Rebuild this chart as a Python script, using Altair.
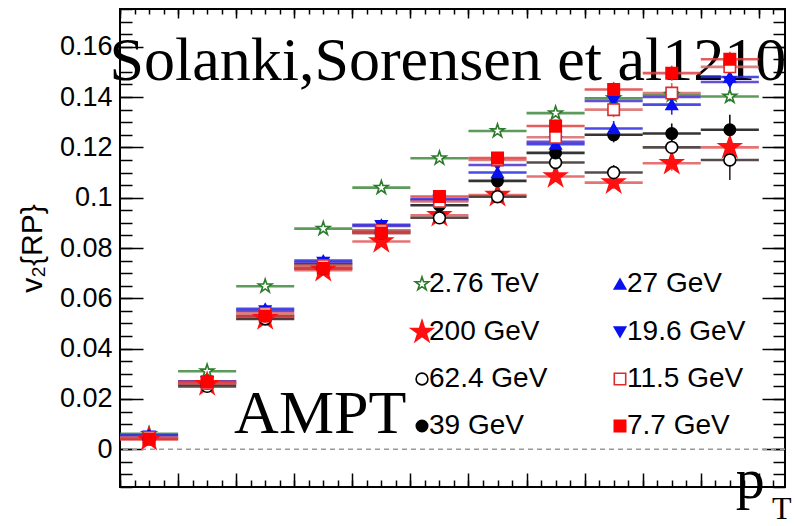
import altair as alt
import pandas as pd

# ---- pT bins (bin edges and centres) ----
pt_lo = [0.0, 0.2, 0.4, 0.6, 0.8, 1.0, 1.2, 1.4, 1.6, 1.8, 2.0]
pt_hi = [0.2, 0.4, 0.6, 0.8, 1.0, 1.2, 1.4, 1.6, 1.8, 2.0, 2.2]
pt_mid = [0.1, 0.3, 0.5, 0.7, 0.9, 1.1, 1.3, 1.5, 1.7, 1.9, 2.1]

# ---- v2{RP} per collision energy ----
v2_2760 = [0.0061, 0.0310, 0.0648, 0.0877, 0.1040, 0.1157, 0.1265, 0.1336, 0.1395, 0.1408, 0.1402]
v2_200 = [0.0040, 0.0258, 0.0520, 0.0712, 0.0826, 0.0930, 0.1010, 0.1084, 0.1060, 0.1137, 0.1200]
v2_624 = [0.0043, 0.0250, 0.0518, 0.0720, 0.0860, 0.0920, 0.1004, 0.1140, 0.1100, 0.1200, 0.1150]
v2_39 = [0.0045, 0.0262, 0.0530, 0.0735, 0.0868, 0.0970, 0.1067, 0.1178, 0.1250, 0.1255, 0.1270]
v2_27 = [0.0056, 0.0270, 0.0558, 0.0750, 0.0892, 0.0995, 0.1100, 0.1213, 0.1275, 0.1370, 0.1480]
v2_196 = [0.0052, 0.0268, 0.0550, 0.0742, 0.0888, 0.0990, 0.1130, 0.1222, 0.1385, 0.1400, 0.1460]
v2_115 = [0.0047, 0.0262, 0.0540, 0.0730, 0.0870, 0.0985, 0.1150, 0.1240, 0.1350, 0.1416, 0.1520]
v2_77 = [0.0040, 0.0268, 0.0530, 0.0720, 0.0860, 0.1005, 0.1158, 0.1285, 0.1430, 0.1495, 0.1550]

# ---- statistical errors ----
err_2760 = [0.0003, 0.0003, 0.0004, 0.0005, 0.0006, 0.0007, 0.0008, 0.0010, 0.0012, 0.0015, 0.0020]
err_200 = [0.0005, 0.0006, 0.0008, 0.0010, 0.0012, 0.0014, 0.0017, 0.0020, 0.0025, 0.0030, 0.0040]
err_624 = [0.0005, 0.0006, 0.0008, 0.0010, 0.0012, 0.0015, 0.0020, 0.0025, 0.0030, 0.0040, 0.0080]
err_39 = [0.0005, 0.0006, 0.0008, 0.0010, 0.0012, 0.0015, 0.0020, 0.0025, 0.0030, 0.0040, 0.0060]
err_27 = [0.0005, 0.0006, 0.0008, 0.0010, 0.0012, 0.0015, 0.0020, 0.0025, 0.0030, 0.0040, 0.0050]
err_196 = [0.0005, 0.0006, 0.0008, 0.0010, 0.0012, 0.0015, 0.0020, 0.0025, 0.0030, 0.0040, 0.0050]
err_115 = [0.0005, 0.0006, 0.0008, 0.0010, 0.0012, 0.0015, 0.0020, 0.0025, 0.0030, 0.0040, 0.0050]
err_77 = [0.0005, 0.0006, 0.0008, 0.0010, 0.0012, 0.0015, 0.0020, 0.0025, 0.0030, 0.0030, 0.0030]

# drawing order (and legend order: the legend fills column by column)
energies = ["2.76 TeV", "200 GeV", "62.4 GeV", "39 GeV", "27 GeV", "19.6 GeV", "11.5 GeV", "7.7 GeV"]
series_v2 = [v2_2760, v2_200, v2_624, v2_39, v2_27, v2_196, v2_115, v2_77]
series_err = [err_2760, err_200, err_624, err_39, err_27, err_196, err_115, err_77]

# ---- marker styles (same order as energies) ----
STAR = ("M0,-1L0.2245,-0.309L0.951,-0.309L0.3633,0.118L0.588,0.809L0,0.382"
        "L-0.588,0.809L-0.3633,0.118L-0.951,-0.309L-0.2245,-0.309Z")
marker_stroke = ["#2b7b2b", "#ff1010", "#000000", "#000000", "#0a10f0", "#0a10f0", "#e02a2a", "#ff0000"]
marker_fill = ["#ffffff", "#ff1010", "#ffffff", "#000000", "#0a10f0", "#0a10f0", "#ffffff", "#ff0000"]
marker_shape = [STAR, STAR, "circle", "circle", "triangle-up", "triangle-down", "square", "square"]
marker_size = [200, 520, 140, 130, 130, 130, 130, 130]
line_color = {
    "2.76 TeV": "#3f8a3f", "200 GeV": "#e05a5a", "62.4 GeV": "#3a2a2a", "39 GeV": "#111111",
    "27 GeV": "#2a2ae0", "19.6 GeV": "#4a30d0", "11.5 GeV": "#d86a6a", "7.7 GeV": "#e04040",
}

rows = []
for name, vals, errs in zip(energies, series_v2, series_err):
    for lo, hi, mid, v, e in zip(pt_lo, pt_hi, pt_mid, vals, errs):
        rows.append({"energy": name, "pt": mid, "lo": lo, "hi": hi, "v2": v,
                     "v2lo": v - e, "v2hi": v + e, "lc": line_color[name]})
df = pd.DataFrame(rows)

# ---- axes ----
x_major = [0.0, 0.2, 0.4, 0.6, 0.8, 1.0, 1.2, 1.4, 1.6, 1.8, 2.0, 2.2]
x_minor = [round(0.05 * i, 2) for i in range(46)]
y_major = [0.0, 0.02, 0.04, 0.06, 0.08, 0.1, 0.12, 0.14, 0.16]
y_minor = [round(-0.015 + 0.005 * i, 3) for i in range(39)]

xscale = alt.Scale(domain=[0.0, 2.29], nice=False, zero=False)
yscale = alt.Scale(domain=[-0.015, 0.175], nice=False, zero=False)

FONT = "Liberation Sans"
SERIF = "Liberation Serif"


def tick_axis(orient, values, length, **kw):
    # inward-pointing ticks: axis pulled inside the frame by its tick length
    return alt.Axis(orient=orient, values=values, tickSize=length, offset=-length,
                    domain=False, grid=False, tickColor="black", tickWidth=1.5,
                    **({"labels": False, "title": None} | kw))


def axis_layer(xaxis, yaxis):
    return alt.Chart(df).mark_point(opacity=0).encode(
        x=alt.X("pt:Q", scale=xscale, axis=xaxis),
        y=alt.Y("v2:Q", scale=yscale, axis=yaxis),
    )


left_major = tick_axis(
    "left", y_major, 23, labels=True, format="~g", labelFont=FONT, labelFontSize=27,
    labelColor="black", labelPadding=8, title="v\u2082{RP}", titleFont=FONT,
    titleFontSize=30, titleFontWeight="normal", titleColor="black", titlePadding=12,
)
ax1 = axis_layer(tick_axis("bottom", x_major, 14), left_major)
ax2 = axis_layer(tick_axis("bottom", x_minor, 7), tick_axis("left", y_minor, 12))
ax3 = axis_layer(tick_axis("top", x_major, 9), tick_axis("right", y_major, 23))
ax4 = axis_layer(tick_axis("top", x_minor, 5), tick_axis("right", y_minor, 12))

one = pd.DataFrame({"a": [0]})


def label(text, x, y, size, font=SERIF):
    return alt.Chart(one).mark_text(
        text=text, font=font, fontSize=size, align="left", baseline="alphabetic",
        color="black", clip=False,
    ).encode(
        x=alt.XDatum(x, scale=xscale, axis=None),
        y=alt.YDatum(y, scale=yscale, axis=None),
    )


ref_text = label("Solanki,Sorensen et al1210", -0.036, 0.1468, 62)
model_text = label("AMPT", 0.393, 0.0065, 62)
pt_p = label("p", 2.12, -0.0194, 58)
pt_t = label("T", 2.245, -0.0278, 32)

zero_line = alt.Chart(pd.DataFrame({"y": [0.0]})).mark_rule(
    strokeDash=[5, 4], color="#9a9a9a", strokeWidth=1.5
).encode(y=alt.Y("y:Q", scale=yscale, axis=None))

bin_lines = alt.Chart(df).mark_rule(strokeWidth=2.6, opacity=0.85).encode(
    x=alt.X("lo:Q", scale=xscale, axis=None),
    x2="hi:Q",
    y=alt.Y("v2:Q", scale=yscale, axis=None),
    color=alt.Color("lc:N", scale=None),
)

err_bars = alt.Chart(df).mark_rule(strokeWidth=1.6).encode(
    x=alt.X("pt:Q", scale=xscale, axis=None),
    y=alt.Y("v2lo:Q", scale=yscale, axis=None),
    y2="v2hi:Q",
    color=alt.Color("lc:N", scale=None),
)

leg = alt.Legend(
    title=None, orient="none", legendX=288, legendY=261, columns=2,
    columnPadding=58, rowPadding=19, labelFont=FONT, labelFontSize=28,
    labelColor="black", labelOffset={"expr": "-7"}, labelLimit=0, symbolStrokeWidth=1.6,
    symbolOpacity=1, padding=0,
)

markers = alt.Chart(df).mark_point(opacity=1, strokeWidth=1.6).encode(
    x=alt.X("pt:Q", scale=xscale, axis=None),
    y=alt.Y("v2:Q", scale=yscale, axis=None),
    stroke=alt.Stroke("energy:N", scale=alt.Scale(domain=energies, range=marker_stroke), legend=leg),
    fill=alt.Fill("energy:N", scale=alt.Scale(domain=energies, range=marker_fill), legend=leg),
    shape=alt.Shape("energy:N", scale=alt.Scale(domain=energies, range=marker_shape), legend=leg),
    size=alt.Size("energy:N", scale=alt.Scale(type="ordinal", domain=energies, range=marker_size),
                  legend=leg),
)

chart = alt.layer(
    ref_text, model_text, zero_line, ax1, ax2, ax3, ax4,
    bin_lines, err_bars, markers, pt_p, pt_t,
).resolve_axis(
    x="independent", y="independent"
).properties(
    width=665, height=478,
    autosize=alt.AutoSizeParams(type="none"),
    padding={"left": 120, "top": 9, "right": 10, "bottom": 39},
    background="white",
).configure_view(
    stroke="black", strokeWidth=2
)

chart.save("out.html", embed_options={"renderer": "svg", "actions": False})
